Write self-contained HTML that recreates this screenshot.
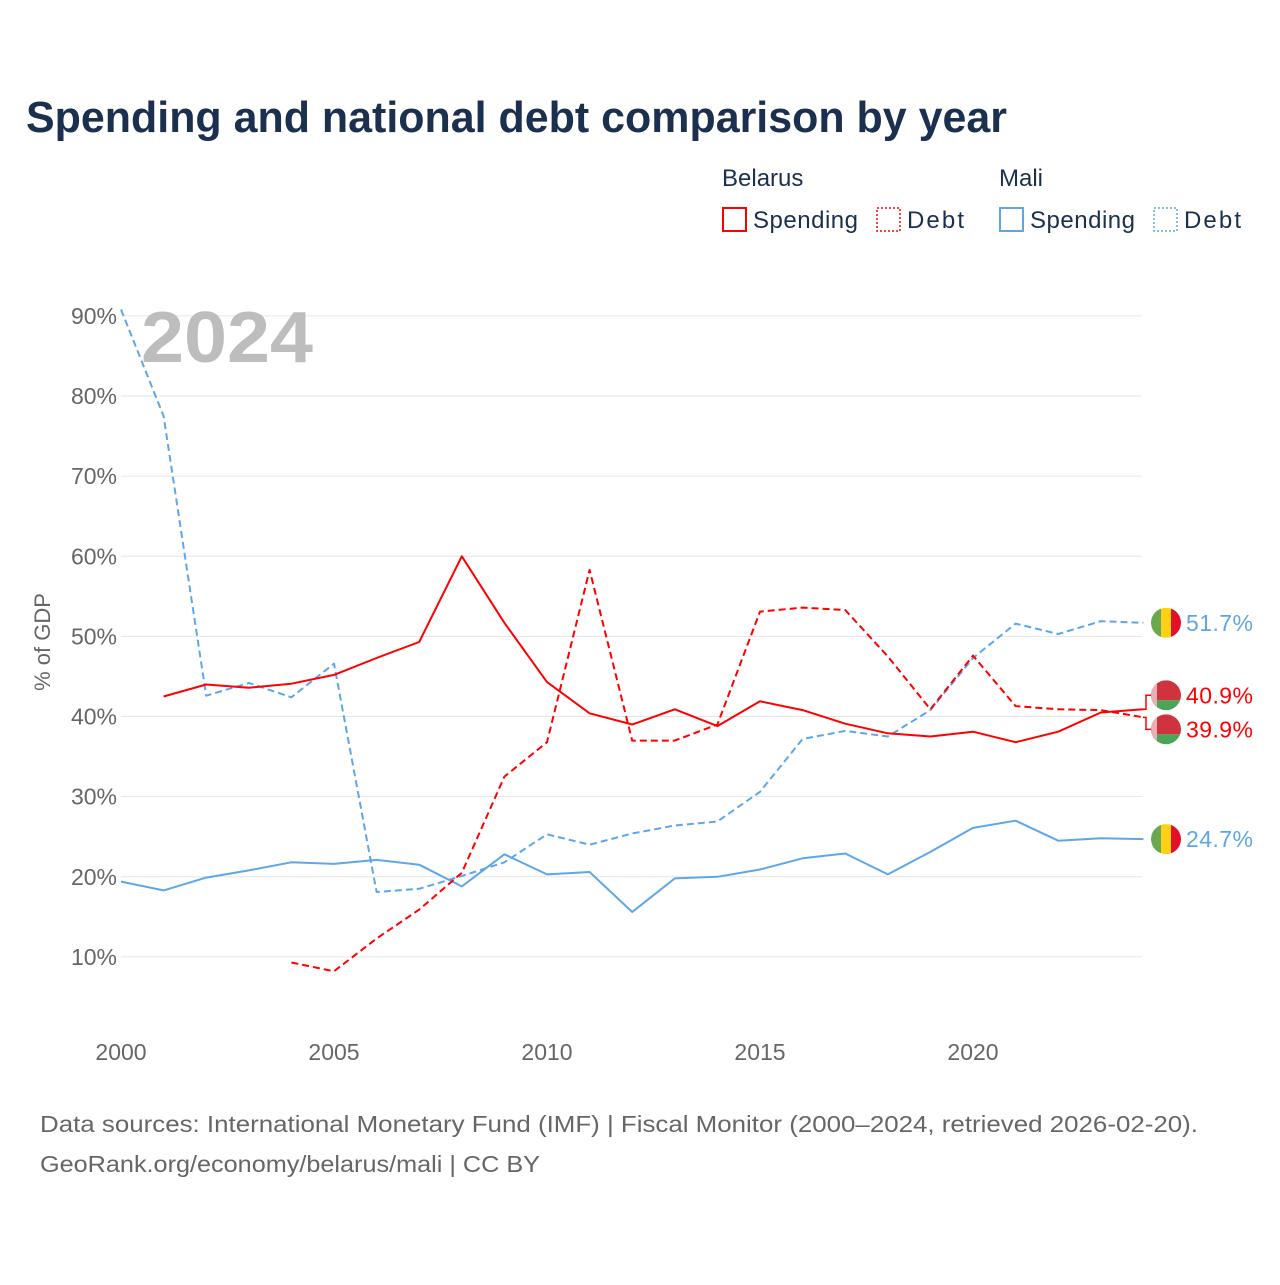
<!DOCTYPE html>
<html><head><meta charset="utf-8"><style>
body{margin:0;background:#fff;width:1280px;height:1280px;overflow:hidden;font-family:"Liberation Sans",sans-serif}
</style></head><body>
<svg id="chart" width="1280" height="1280" xmlns="http://www.w3.org/2000/svg" font-family="Liberation Sans, sans-serif">
<text x="26" y="132" font-size="44" font-weight="bold" fill="#1b2f4e" textLength="981" lengthAdjust="spacingAndGlyphs">Spending and national debt comparison by year</text>
<g font-size="24" fill="#1b2f4e">
<text x="722" y="186">Belarus</text><text x="999" y="186">Mali</text>
<rect x="723" y="208" width="23" height="23" fill="none" stroke="#f00" stroke-width="2"/><text x="753" y="228" textLength="105">Spending</text>
<rect x="877" y="208" width="23" height="23" fill="none" stroke="#f00" stroke-width="1.5" stroke-dasharray="2,2"/><text x="907" y="228" textLength="57">Debt</text>
<rect x="1000" y="208" width="23" height="23" fill="none" stroke="#5ea6ea" stroke-width="2"/><text x="1030" y="228" textLength="105">Spending</text>
<rect x="1154" y="208" width="23" height="23" fill="none" stroke="#5ea6ea" stroke-width="1.5" stroke-dasharray="2,2"/><text x="1184" y="228" textLength="57">Debt</text>
</g>
<g id="grid"></g>
<text x="141" y="362" font-size="72" font-weight="bold" fill="#bdbdbd" textLength="172" lengthAdjust="spacingAndGlyphs">2024</text>
<text transform="translate(50,642) rotate(-90)" text-anchor="middle" font-size="22" fill="#666">% of GDP</text>
<g id="series"></g>
<g id="ends"></g>
<text x="40" y="1132" font-size="23" fill="#666" textLength="1158" lengthAdjust="spacingAndGlyphs">Data sources: International Monetary Fund (IMF) | Fiscal Monitor (2000–2024, retrieved 2026-02-20).</text>
<text x="40" y="1172" font-size="23" fill="#666" textLength="500" lengthAdjust="spacingAndGlyphs">GeoRank.org/economy/belarus/mali | CC BY</text>
</svg>
<script>
const years=[];for(let y=2000;y<=2024;y++)years.push(y);
const yTicks=[10,20,30,40,50,60,70,80,90];
const xTicks=[2000,2005,2010,2015,2020];
const belarusSpending=[null,42.5,44,43.6,44.1,45.2,47.3,49.3,60,51.7,44.3,40.4,39,40.9,38.8,41.9,40.8,39.1,37.9,37.5,38.1,36.8,38.1,40.5,40.9];
const belarusDebt=[null,null,null,null,9.3,8.2,12.3,15.9,20.5,32.5,36.8,58.3,37,37,39,53.1,53.6,53.3,47.5,40.9,47.6,41.3,40.9,40.8,39.9];
const maliSpending=[19.4,18.3,19.9,20.8,21.8,21.6,22.1,21.5,18.8,22.8,20.3,20.6,15.6,19.8,20.0,20.9,22.3,22.9,20.3,23.1,26.1,27.0,24.5,24.8,24.7];
const maliDebt=[90.8,77.5,42.6,44.2,42.4,46.6,18.1,18.5,20.1,21.8,25.3,24.0,25.4,26.4,26.9,30.6,37.2,38.2,37.5,40.8,47.3,51.6,50.3,51.9,51.7];
const NS='http://www.w3.org/2000/svg';
const X=y=>121+(y-2000)*42.6;
const Y=v=>1037-v*8.012;
function mk(t,a,p){const e=document.createElementNS(NS,t);for(const k in a)e.setAttribute(k,a[k]);p.appendChild(e);return e;}
const grid=document.getElementById('grid');
yTicks.forEach(v=>{
 const l=mk('line',{x1:121,x2:1142,y1:Y(v),y2:Y(v),stroke:'#e6e6e6','stroke-width':1},grid);
 
 
 const t=mk('text',{x:117,y:Y(v)+8,'text-anchor':'end','font-size':23,fill:'#666'},grid);t.textContent=v+'%';
 
 
});
xTicks.forEach(v=>{
 const t=mk('text',{x:X(v),y:1060,'text-anchor':'middle','font-size':23,fill:'#666'},grid);t.textContent=v;
 
 
});
const ser=document.getElementById('series');
function line(arr,color,dash,name){
 let d='';arr.forEach((v,i)=>{if(v==null)return;d+=(d?'L':'M')+X(years[i]).toFixed(1)+','+Y(v).toFixed(1);});
 const p=mk('path',{d:d,fill:'none',stroke:color,'stroke-width':2,'stroke-dasharray':dash||'none','stroke-linejoin':'round'},ser);
 
 
}
line(maliSpending,'#5ea6ea',null,'mali-spending-line');
line(maliDebt,'#5ea6ea','7,4','mali-debt-line');
line(belarusSpending,'#f00',null,'belarus-spending-line');
line(belarusDebt,'#f00','7,4','belarus-debt-line');
const ends=document.getElementById('ends');
function flag(cx,cy,country){
 const g=mk('g',{},ends);
 
 
 const id='c'+Math.round(cy);
 const cp=mk('clipPath',{id:id},g);mk('circle',{cx:cx,cy:cy,r:15},cp);
 const h=mk('g',{'clip-path':'url(#'+id+')'},g);
 if(country==='mali'){
  mk('rect',{x:cx-15,y:cy-15,width:10,height:30,fill:'#6aa84f'},h);
  mk('rect',{x:cx-5,y:cy-15,width:10,height:30,fill:'#fcd116'},h);
  mk('rect',{x:cx+5,y:cy-15,width:10,height:30,fill:'#e3102a'},h);
 }else{
  mk('rect',{x:cx-15,y:cy-15,width:30,height:20,fill:'#cf3340'},h);
  mk('rect',{x:cx-15,y:cy+5,width:30,height:10,fill:'#4aa657'},h);
  mk('rect',{x:cx-15,y:cy-15,width:6,height:30,fill:'#e8b0b4'},h);
 }
}
function label(cx,cy,txt,color,name){
 const t=mk('text',{x:cx+20,y:cy+8,'font-size':23,fill:color,textLength:67},ends);t.textContent=txt;
 
 
}
const last=years.length-1;
flag(1166,Y(maliDebt[last]),'mali');label(1166,Y(maliDebt[last]),maliDebt[last]+'%','#5ea6ea','mali-debt-end-label');
flag(1166,Y(maliSpending[last]),'mali');label(1166,Y(maliSpending[last]),maliSpending[last]+'%','#5ea6ea','mali-spending-end-label');
const bs=Y(belarusSpending[last]),bd=Y(belarusDebt[last]);
const b1=mk('path',{d:`M1143,${bs}L1146,${bs}L1146,${bs-14}L1152,${bs-14}M1143,${bd}L1146,${bd}L1146,${bd+12}L1152,${bd+12}`,fill:'none',stroke:'#f00','stroke-width':1.5},ends);


flag(1166,bs-14,'belarus');label(1166,bs-14,belarusSpending[last]+'%','#f00','belarus-spending-end-label');
flag(1166,bd+12,'belarus');label(1166,bd+12,belarusDebt[last]+'%','#f00','belarus-debt-end-label');
</script>
</body></html>
